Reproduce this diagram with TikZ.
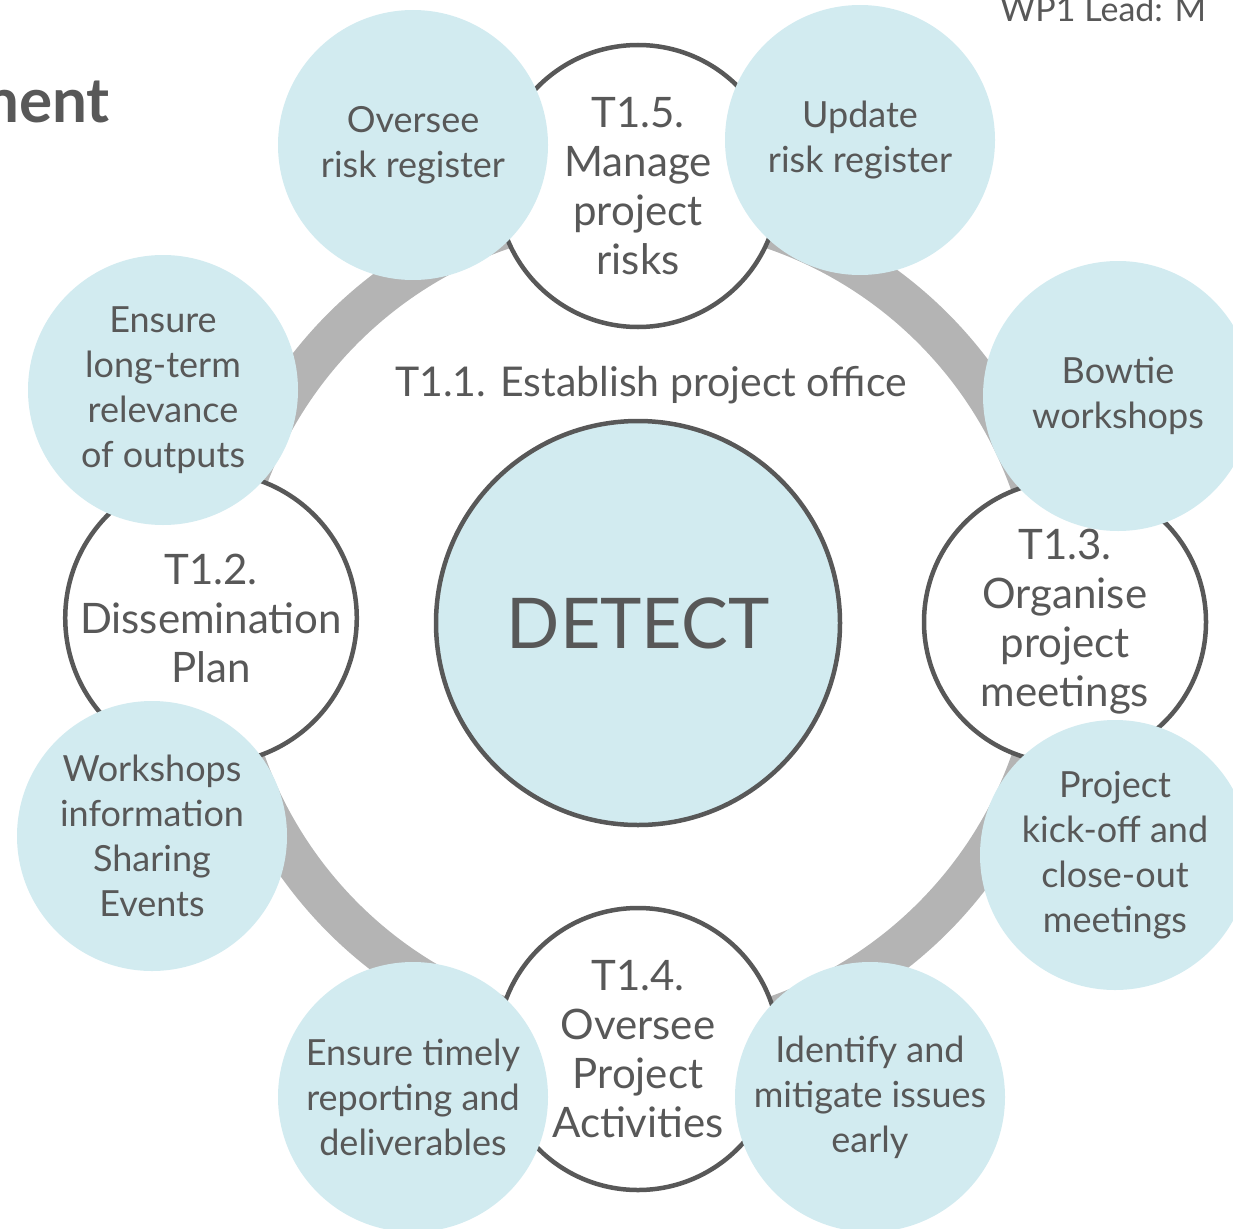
\documentclass[tikz,border=0pt]{standalone}
\usepackage{fontspec}
\setmainfont{Lato}
\definecolor{ink}{HTML}{585858}
\definecolor{sky}{HTML}{D2EBF0}
\definecolor{band}{HTML}{B4B4B4}
\tikzset{hub/.style = {circle, line width=4.5pt, draw=ink, fill=sky, minimum size=404pt, inner sep=0pt, font=\fontsize{70}{76}\selectfont},
         tk/.style  = {circle, line width=4.5pt, draw=ink, fill=white, minimum size=282pt, inner sep=0pt, align=center, font=\fontsize{42}{49}\selectfont},
         sat/.style = {circle, fill=sky, minimum size=270pt, inner sep=0pt, align=center, font=\fontsize{36}{45}\selectfont}}

\begin{document}
\begin{tikzpicture}[x=1pt, y=-1pt, text=ink]
    \clip (0,0) rectangle (1233,1228);
    \node[hub] (d) at (638,623) {DETECT};
    \draw[band, line width=42pt] (d.center) circle (417pt);
    \node[tk] (t15) at (638,186) {T1.5.\\Manage\\project\\risks};
    \node[tk] (t12) at (211,618) {T1.2.\\Dissemination\\Plan};
    \node[tk] (t13) at (1065,622) {T1.3.\\Organise\\project\\meetings};
    \node[tk] (t14) at (638,1049) {T1.4.\\Oversee\\Project\\Activities};
    \node[sat] (s1) at (413,145) {Oversee\\risk register};
    \node[sat] (s2) at (860,140) {Update\\risk register};
    \node[sat] (s3) at (1118,396) {Bowtie\\workshops};
    \node[sat] (s4) at (1115,855) {Project\\kick-off and\\close-out\\meetings};
    \node[sat] (s5) at (870,1097) {Identify and\\mitigate issues\\early};
    \node[sat] (s6) at (413,1097) {Ensure timely\\reporting and\\deliverables};
    \node[sat] (s7) at (152,836) {Workshops\\information\\Sharing\\Events};
    \node[sat] (s8) at (163,390) {Ensure\\long-term\\relevance\\of outputs};
    \node[font=\fontsize{41}{48}\selectfont] (t11) at (651,385) {T1.1. Establish project office};
    \node[anchor=base east, inner sep=0pt, font=\bfseries\fontsize{62}{66}\selectfont] (ttl) at (110,122) {ment};
    \node[anchor=base west, inner sep=0pt, font=\fontsize{34}{36}\selectfont] (lead) at (1000,22) {WP1 Lead: M};
\end{tikzpicture}
\end{document}
